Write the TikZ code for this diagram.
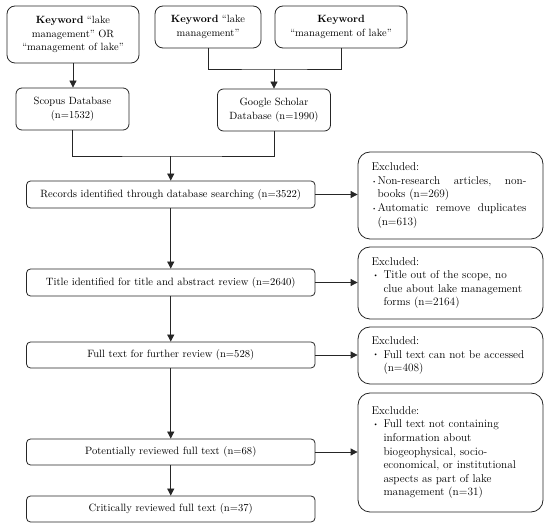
\documentclass[tikz,border=0pt]{standalone}
\usepackage{graphicx}
\usetikzlibrary{arrows.meta,calc}
\newcommand{\myblt}{\makebox[12pt][l]{\hspace{1.5pt}\raisebox{0.25ex}{\scalebox{0.6}{\textbullet}}}}
\newcommand{\mybltb}{\makebox[6pt][l]{\hspace{0.5pt}\raisebox{0.25ex}{\scalebox{0.5}{\textbullet}}}}
\newcommand{\exline}[1]{\mbox{\hspace*{12pt}#1}}
\begin{document}
\begin{tikzpicture}[x=1pt,y=-1pt,
  every node/.style={font=\fontsize{10.5}{13.5}\selectfont, line width=0.8pt, draw=black!85, inner sep=0pt},
  kbox/.style={rounded corners=8pt, align=center},
  dbox/.style={rounded corners=6pt, align=center, minimum width=113pt, minimum height=42pt},
  mainbox/.style={rounded corners=4pt, minimum width=288.5pt, font=\fontsize{10.6}{13.5}\selectfont},
  exbox/.style={rounded corners=12pt, minimum width=185pt, text width=158pt, align=left, font=\fontsize{11.3}{13.6}\selectfont},
  arr/.style={line width=0.8pt, draw=black!85, -{Triangle[width=7pt,length=7pt]}},
  ln/.style={line width=0.8pt, draw=black!85}]
\useasboundingbox (0,0) rectangle (550,529);
% keyword boxes
\node[kbox, minimum width=132pt, minimum height=57pt] (k1) at (73,34.5) {\textbf{Keyword} ``lake\\management'' OR\\``management of lake''};
\node[kbox, minimum width=106pt, minimum height=42pt] (k2) at (208,27) {\textbf{Keyword} ``lake\\management''};
\node[kbox, minimum width=132pt, minimum height=42pt] (k3) at (341,27) {\textbf{Keyword}\\``management of lake''};
% databases
\node[dbox] (scopus) at (72.5,109) {Scopus Database\\(n=1532)};
\node[dbox] (google) at (274,110) {Google Scholar\\Database (n=1990)};
% main flow
\node[mainbox, minimum height=27pt] (records) at (170.75,194.5) {Records identified through database searching (n=3522)};
\node[mainbox, minimum height=27pt] (title) at (170.75,282.5) {Title identified for title and abstract review (n=2640)};
\node[mainbox, minimum height=26pt] (full) at (170.75,355) {Full text for further review (n=528)};
\node[mainbox, minimum height=26pt] (pot) at (170.75,452) {Potentially reviewed full text (n=68)};
\node[mainbox, minimum height=26pt] (crit) at (170.75,509) {Critically reviewed full text (n=37)};
% excluded boxes
\node[exbox, minimum height=87pt] (ex1) at (450.5,195.5) {Excluded:\\
\mbox{\mybltb\hbox to 149pt{Non-research\hfill articles,\hfill non-}}\\
\mbox{\hspace*{6pt}books (n=269)}\\
\mbox{\mybltb\hbox to 149pt{Automatic\hfill remove\hfill duplicates}}\\
\mbox{\hspace*{6pt}(n=613)}};
\node[exbox, minimum height=72pt] (ex2) at (450.5,283) {Excluded:\\
\mbox{\myblt Title out of the scope, no}\\
\exline{clue about lake management}\\
\exline{forms (n=2164)}};
\node[exbox, minimum height=57pt] (ex3) at (450.5,355.5) {Excluded:\\
\mbox{\myblt Full text can not be accessed}\\
\exline{(n=408)}};
\node[exbox, minimum height=119pt] (ex4) at (450.5,452.5) {Excludde:\\
\mbox{\myblt Full text not containing}\\
\exline{information about}\\
\exline{biogeophysical, socio-}\\
\exline{economical, or institutional}\\
\exline{aspects as part of lake}\\
\exline{management (n=31)}};
% connectors
\coordinate (j1) at (274,69);
\coordinate (j2) at (170.75,156);
\draw[arr] (k1.south) -- (k1.south |- scopus.north);
\draw[ln] (k2.south) |- (j1) -| (k3.south);
\draw[arr] (j1) -- (google.north);
\draw[ln] (scopus.south) |- (j2) -| (google.south);
\draw[arr] (j2) -- (records.north);
\draw[arr] (records.south) -- (title.north);
\draw[arr] (title.south) -- (full.north);
\draw[arr] (full.south) -- (pot.north);
\draw[arr] (pot.south) -- (crit.north);
\draw[arr] (records.east) -- (ex1.west |- records.east);
\draw[arr] (title.east) -- (ex2.west |- title.east);
\draw[arr] (full.east) -- (ex3.west |- full.east);
\draw[arr] (pot.east) -- (ex4.west |- pot.east);
\end{tikzpicture}
\end{document}
